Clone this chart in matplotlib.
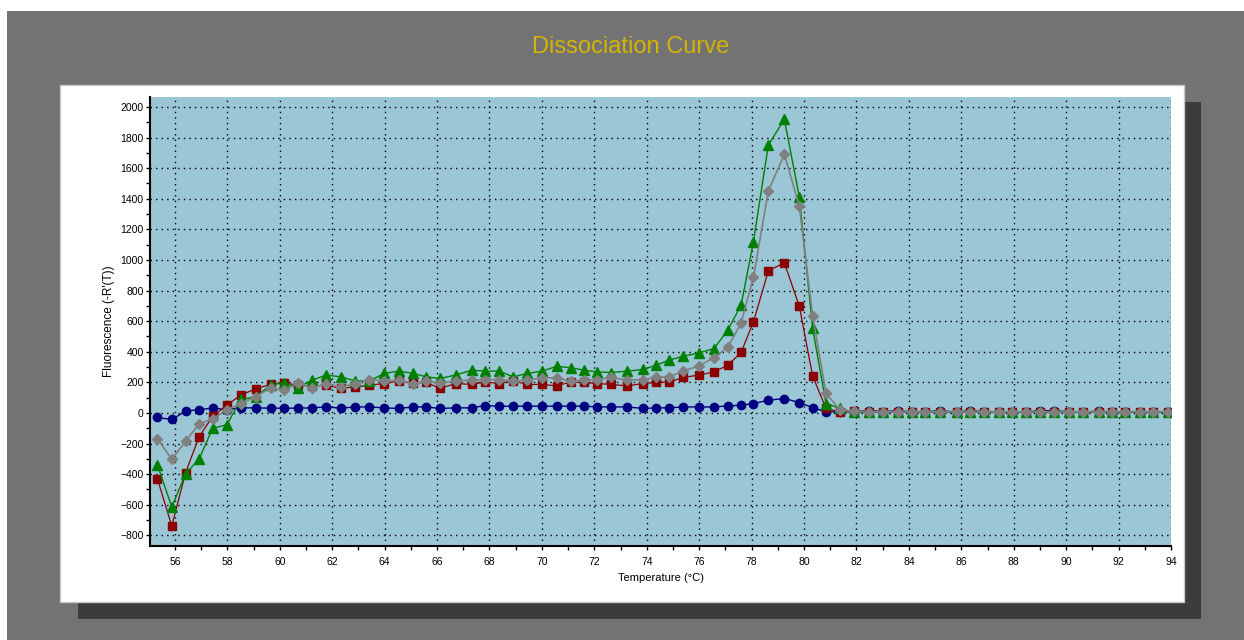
import matplotlib
matplotlib.use("Agg")
import matplotlib.pyplot as plt
from matplotlib.patches import Rectangle
from matplotlib.ticker import MultipleLocator

plt.rcParams['font.family'] = ['Liberation Sans', 'DejaVu Sans']

# temperatures (°C)
temps = [55.33, 55.88, 56.41, 56.92, 57.44, 57.98, 58.52, 59.09, 59.66, 60.17,
         60.69, 61.22, 61.77, 62.33, 62.87, 63.42, 63.99, 64.55, 65.10, 65.58,
         66.11, 66.71, 67.32, 67.84, 68.37, 68.91, 69.45, 70.01, 70.57, 71.10,
         71.62, 72.12, 72.65, 73.24, 73.87, 74.36, 74.86, 75.40, 75.98, 76.57,
         77.09, 77.60, 78.07, 78.64, 79.25, 79.82, 80.33, 80.84, 81.38, 81.91,
         82.49, 83.03, 83.59, 84.11, 84.62, 85.19, 85.83, 86.34, 86.85, 87.42,
         87.93, 88.48, 89.01, 89.52, 90.09, 90.66, 91.24, 91.75, 92.25, 92.82,
         93.33, 93.90]

# -R'(T) for each well
blue = [-30, -43, 11, 22, 31, 22, 33, 33, 31, 31,
        31, 33, 39, 31, 39, 39, 33, 29, 39, 39,
        29, 33, 33, 48, 44, 44, 44, 44, 44, 44,
        44, 39, 39, 39, 29, 33, 33, 39, 39, 39,
        46, 50, 61, 83, 94, 68, 35, 7, 7, 7,
        15, 8, 15, 6, 8, 14, 6, 15, 8, 6,
        8, 6, 15, 14, 8, 6, 12, 6, 8, 6,
        6, 6]
red = [-429, -739, -390, -157, -22, 50, 118, 157, 188, 196,
       181, 175, 181, 160, 170, 181, 192, 209, 196, 200,
       160, 192, 186, 203, 192, 209, 186, 186, 177, 203,
       199, 192, 186, 177, 192, 199, 203, 232, 247, 268,
       312, 395, 595, 929, 981, 698, 240, 29, 7, 13,
       8, 8, 8, 8, 8, 8, 8, 8, 8, 8,
       8, 8, 8, 8, 8, 8, 8, 8, 8, 8,
       8, 8]
green = [-338, -615, -397, -303, -100, -78, 88, 105, 185, 196,
         164, 214, 247, 236, 209, 209, 258, 273, 258, 236,
         225, 247, 279, 273, 273, 236, 258, 273, 305, 295,
         279, 268, 264, 273, 284, 312, 345, 371, 391, 421,
         541, 705, 1119, 1751, 1919, 1413, 552, 61, 29, 3,
         5, 5, 5, 5, 5, 5, 5, 5, 5, 5,
         5, 5, 5, 5, 5, 5, 5, 5, 5, 5,
         5, 5]
gray = [-168, -303, -185, -72, -39, 20, 61, 107, 164, 147,
        198, 162, 192, 168, 192, 218, 209, 214, 192, 206,
        196, 209, 214, 218, 218, 209, 214, 229, 229, 207,
        214, 218, 232, 214, 218, 232, 236, 275, 306, 362,
        428, 589, 886, 1452, 1690, 1352, 633, 127, 18, 10,
        8, 8, 8, 8, 8, 8, 8, 8, 8, 8,
        8, 8, 8, 8, 8, 8, 8, 8, 8, 8,
        8, 8]

W, H = 1244, 640
fig = plt.figure(figsize=(W / 100, H / 100), dpi=100)
fig.patch.set_facecolor('white')


def px_rect(x0, y0, x1, y1, **kw):
    # rectangle given in picture pixels (origin top-left)
    r = Rectangle((x0 / W, 1 - y1 / H), (x1 - x0) / W, (y1 - y0) / H,
                  transform=fig.transFigure, **kw)
    fig.patches.append(r)


px_rect(7, 11, W, H, facecolor='#737373', edgecolor='none', zorder=0)
px_rect(78, 102, 1201, 619, facecolor='#3c3c3c', edgecolor='none', zorder=1)
px_rect(60, 85, 1184, 602, facecolor='white', edgecolor='#c8c8c8', lw=1, zorder=2)

fig.text(631 / W, 1 - 47 / H, 'Dissociation Curve', color='#d4b400',
         fontsize=17, ha='center', va='center')

ax = fig.add_axes([150 / W, 1 - 546 / H, 1021 / W, 449 / H])
ax.set_zorder(5)
ax.set_facecolor('#9ac6d6')

ax.plot(temps, blue, color='#000080', marker='o', ms=6, lw=1)
ax.plot(temps, red, color='#8b0000', marker='s', ms=6, lw=0.9)
ax.plot(temps, green, color='#008000', marker='^', ms=6.5, lw=1)
ax.plot(temps, gray, color='#808080', marker='D', ms=5.5, lw=1.2)

ax.set_xlim(55.05, 94)
ax.set_ylim(-870, 2065)
ax.xaxis.set_major_locator(MultipleLocator(2))
ax.xaxis.set_minor_locator(MultipleLocator(1))
ax.yaxis.set_major_locator(MultipleLocator(200))
ax.yaxis.set_minor_locator(MultipleLocator(100))
ax.grid(True, which='major', color='black', linestyle=(0, (1, 3)), lw=1)
ax.set_axisbelow(True)

for s in ['top', 'right']:
    ax.spines[s].set_visible(False)
for s in ['left', 'bottom']:
    ax.spines[s].set_linewidth(1.5)

ax.tick_params(which='both', direction='out', length=3, width=1, labelsize=7.5)
ax.tick_params(axis='y', pad=1.5)
ax.tick_params(axis='x', pad=5)

ax.set_xlabel('Temperature (°C)', fontsize=8, labelpad=4)
ax.set_ylabel("Fluorescence (-R'(T))", fontsize=8.5, labelpad=4)

plt.savefig('out.png', dpi=100)
